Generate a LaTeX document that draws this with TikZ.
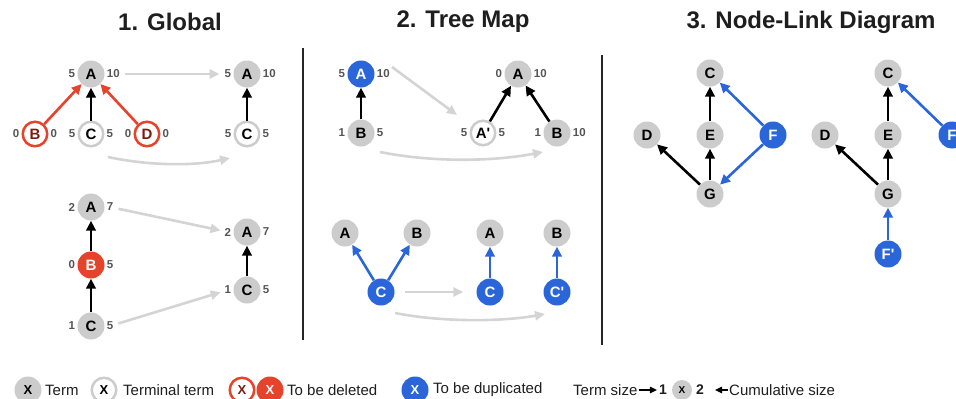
\documentclass[tikz,border=0pt]{standalone}
\usepackage{fontspec}
\setmainfont{Liberation Sans}
\usetikzlibrary{arrows.meta,calc}

\definecolor{tgray}{HTML}{CCCCCC}
\definecolor{tred}{HTML}{E5432B}
\definecolor{tdred}{HTML}{7A1E10}
\definecolor{tblue}{HTML}{2A66D9}
\definecolor{tnum}{HTML}{555555}
\definecolor{tflow}{HTML}{D4D4D4}
\definecolor{ttext}{HTML}{1E1E1E}

\tikzset{
  term/.style={circle, fill=tgray, minimum size=27pt, inner sep=0pt,
    font=\bfseries\fontsize{15}{15}\selectfont, text=black},
  terminal/.style={term, fill=white, draw=tgray, line width=2.5pt, minimum size=24.5pt},
  todel/.style={term, fill=white, draw=tred, line width=2.5pt, minimum size=24.5pt, text=tdred},
  deleted/.style={term, fill=tred, text=white},
  dup/.style={term, fill=tblue, text=white},
  num/.style={font=\bfseries\fontsize{11.5}{11.5}\selectfont, text=tnum, inner sep=1pt},
  every label/.style={label distance=1pt},
  link/.style={line width=2.6pt, -{Triangle[length=10pt,width=9.5pt]}},
  flow/.style={draw=tflow, line width=2.6pt, -{Triangle[length=10pt,width=9pt]}},
  title/.style={font=\bfseries\fontsize{24}{24}\selectfont, text=ttext},
  divider/.style={line width=1.4pt, draw=black!85},
  legtext/.style={font=\fontsize{15}{15}\selectfont, text=ttext, anchor=west, inner sep=0pt},
  legnode/.style={minimum size=27pt, font=\bfseries\fontsize{13}{13}\selectfont},
  legnum/.style={font=\bfseries\fontsize{14}{14}\selectfont, text=ttext, inner sep=1pt},
  legarrow/.style={line width=1.5pt, -{Triangle[length=7pt,width=6.5pt]}},
}

\begin{document}
\begin{tikzpicture}[x=1pt,y=-1pt]
\useasboundingbox (0,0) rectangle (956,399);
\clip (0,0) rectangle (956,399);

% section titles
\node[title] (t1) at (170,22) {1. Global};
\node[title] (t2) at (463,22) {2. Tree Map};
\node[title] (t3) at (811,22) {3. Node-Link Diagram};

% dividers
\draw[divider] (303,48) -- (303,340);
\draw[divider] (602,55) -- (602,345);

% ---------- 1. Global, upper example ----------
\node[term, label={[num,name=g1al]left:5}, label={[num,name=g1ar]right:10}] (g1a) at (91,74) {A};
\node[todel, label={[num]left:0}, label={[num]right:0}] (g1b) at (35,134) {B};
\node[terminal, label={[num]left:5}, label={[num]right:5}] (g1c) at (91,134) {C};
\node[todel, label={[num]left:0}, label={[num]right:0}] (g1d) at (147,134) {D};
\node[term, label={[num,name=g2al]left:5}, label={[num,name=g2ar]right:10}] (g2a) at (247,74) {A};
\node[terminal, label={[num]left:5}, label={[num]right:5}] (g2c) at (247,134) {C};

\draw[link, color=tred] (g1b) -- (g1a);
\draw[link, color=tred] (g1d) -- (g1a);
\draw[link] (g1c) -- (g1a);
\draw[link] (g2c) -- (g2a);

\draw[flow, shorten <=4pt, shorten >=4pt] (g1ar) -- (g2al);
\coordinate (g1s) at ($(g1c.center)+(17,23)$);
\coordinate (g1e) at ($(g2c.center)+(-17,24)$);
\draw[flow] (g1s) .. controls +(42,9) and +(-35,8) .. (g1e);

% ---------- 1. Global, lower example ----------
\node[term, label={[num]left:2}, label={[num,name=h1ar]right:7}] (h1a) at (91,207) {A};
\node[deleted, label={[num]left:0}, label={[num]right:5}] (h1b) at (91,265) {B};
\node[term, label={[num]left:1}, label={[num,name=h1cr]right:5}] (h1c) at (91,326) {C};
\node[term, label={[num,name=h2al]left:2}, label={[num]right:7}] (h2a) at (247,232) {A};
\node[term, label={[num,name=h2cl]left:1}, label={[num]right:5}] (h2c) at (247,290) {C};

\draw[link] (h1c) -- (h1b);
\draw[link] (h1b) -- (h1a);
\draw[link] (h2c) -- (h2a);

\draw[flow, shorten <=4pt, shorten >=3pt] (h1ar) -- (h2al);
\draw[flow, shorten <=4pt, shorten >=3pt] (h1cr) -- (h2cl);

% ---------- 2. Tree Map, upper example ----------
\node[dup, label={[num]left:5}, label={[num,name=m1ar]right:10}] (m1a) at (361,74) {A};
\node[term, label={[num]left:1}, label={[num]right:5}] (m1b) at (361,133) {B};
\node[term, label={[num]left:0}, label={[num]right:10}] (m2a) at (518,74) {A};
\node[terminal, label={[num]left:5}, label={[num]right:5}] (m2p) at (483,133) {A\textquotesingle};
\node[term, label={[num]left:1}, label={[num]right:10}] (m2b) at (557,133) {B};

\draw[link] (m1b) -- (m1a);
\draw[link] (m2p) -- (m2a);
\draw[link] (m2b) -- (m2a);

\coordinate (m1s) at ($(m1a.center)+(31,-7)$);
\coordinate (m1e) at ($(m2p.center)+(-26,-18)$);
\draw[flow] (m1s) -- (m1e);
\coordinate (m2s) at ($(m1b.center)+(19,19)$);
\coordinate (m2e) at ($(m2b.center)+(-14,19)$);
\draw[flow] (m2s) .. controls +(50,10) and +(-53,10) .. (m2e);

% ---------- 2. Tree Map, lower example ----------
\node[term] (u1a) at (345,233) {A};
\node[term] (u1b) at (417,233) {B};
\node[dup] (u1c) at (381,292) {C};
\node[term] (u2a) at (490,233) {A};
\node[dup] (u2c) at (490,292) {C};
\node[term] (u3b) at (557,233) {B};
\node[dup] (u3c) at (557,292) {C\textquotesingle};

\draw[link, color=tblue] (u1c) -- (u1a);
\draw[link, color=tblue] (u1c) -- (u1b);
\draw[link, color=tblue] (u2c) -- (u2a);
\draw[link, color=tblue] (u3c) -- (u3b);

\draw[flow, shorten <=10pt, shorten >=13pt] (u1c) -- (u2c);
\coordinate (u1s) at ($(u1c.center)+(14,21)$);
\coordinate (u1e) at ($(u3c.center)+(-12,22)$);
\draw[flow] (u1s) .. controls +(45,9) and +(-45,8) .. (u1e);

% ---------- 3. Node-Link Diagram ----------
\node[term] (n1c) at (710,73) {C};
\node[term] (n1e) at (710,135) {E};
\node[term] (n1d) at (647,135) {D};
\node[dup]  (n1f) at (773,135) {F};
\node[term] (n1g) at (710,194) {G};

\draw[link] (n1g) -- (n1d);
\draw[link] (n1g) -- (n1e);
\draw[link] (n1e) -- (n1c);
\draw[link, color=tblue] (n1f) -- (n1c);
\draw[link, color=tblue] (n1f) -- (n1g);

\node[term] (n2c) at (888,73) {C};
\node[term] (n2e) at (888,135) {E};
\node[term] (n2d) at (825,135) {D};
\node[dup]  (n2f) at (952,135) {F};
\node[term] (n2g) at (888,194) {G};
\node[dup]  (n2p) at (888,254) {F\textquotesingle};

\draw[link] (n2g) -- (n2d);
\draw[link] (n2g) -- (n2e);
\draw[link] (n2e) -- (n2c);
\draw[link, color=tblue] (n2f) -- (n2c);
\draw[link, color=tblue] (n2p) -- (n2g);

% ---------- legend ----------
\node[term, legnode] (k1) at (28,390) {X};
\node[legtext] (k1t) at (45,390) {Term};
\node[terminal, legnode, minimum size=24.5pt] (k2) at (104,390) {X};
\node[legtext] (k2t) at (123,390) {Terminal term};
\node[todel, legnode, minimum size=24.5pt] (k3) at (242,390) {X};
\node[deleted, legnode] (k4) at (270,390) {X};
\node[legtext] (k4t) at (287,390) {To be deleted};
\node[dup, legnode] (k5) at (415,390) {X};
\node[legtext] (k5t) at (433,390) {To be duplicated};

\node[legtext] (ks) at (573,390) {Term size};
\node[legnum] (k6l) at (663,390) {1};
\node[term, minimum size=20pt, font=\bfseries\fontsize{10}{10}\selectfont] (k6) at (682,390) {X};
\node[legnum] (k6r) at (700,390) {2};
\node[legtext] (kc) at (729,390) {Cumulative size};
\draw[legarrow, shorten <=1pt, shorten >=1pt] (ks) -- (k6l);
\draw[legarrow, shorten <=1pt, shorten >=10pt] (kc) -- (k6r);
\end{tikzpicture}
\end{document}
